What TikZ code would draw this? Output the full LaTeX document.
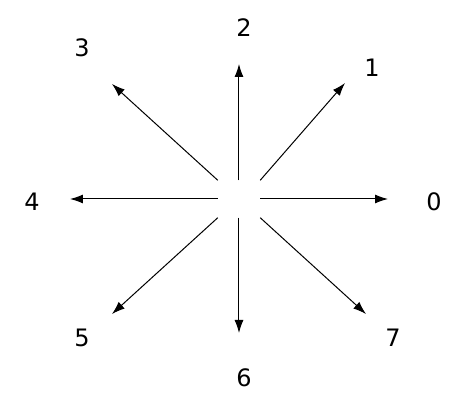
\documentclass[tikz,border=0pt]{standalone}
\usepackage{fontspec}
\setmainfont{DejaVu Sans}
\usetikzlibrary{arrows.meta}
\begin{document}
\begin{tikzpicture}[x=1pt,y=1pt,
        dir/.style={line width=1pt,-{Latex[length=13pt,width=9pt]}},
        digit/.style={font=\fontsize{24}{28}\selectfont,inner sep=0pt}]
                \useasboundingbox (-239,-207) rectangle (235,199);
                
                \node[minimum width=42pt,minimum height=37pt,inner sep=0pt] (c) at (0,0) {};
                
                \coordinate (t0) at (149,0);
                \coordinate (t1) at (106,116);
                \coordinate (t2) at (0,135);
                \coordinate (t3) at (-127,115);
                \coordinate (t4) at (-169,0);
                \coordinate (t5) at (-127,-115);
                \coordinate (t6) at (0,-134);
                \coordinate (t7) at (127,-115);
                
                \draw[dir] (c.east) -- (t0);
                \draw[dir] (c.north east) -- (t1);
                \draw[dir] (c.north) -- (t2);
                \draw[dir] (c.north west) -- (t3);
                \draw[dir] (c.west) -- (t4);
                \draw[dir] (c.south west) -- (t5);
                \draw[dir] (c.south) -- (t6);
                \draw[dir] (c.south east) -- (t7);
                
                \node[digit] (n0) at (195,-3) {0};
                \node[digit] (n1) at (133,131) {1};
                \node[digit] (n2) at (5,171) {2};
                \node[digit] (n3) at (-157,151) {3};
                \node[digit] (n4) at (-207,-3) {4};
                \node[digit] (n5) at (-157,-139) {5};
                \node[digit] (n6) at (5,-179) {6};
                \node[digit] (n7) at (154,-139) {7};
            \end{tikzpicture}
\end{document}
